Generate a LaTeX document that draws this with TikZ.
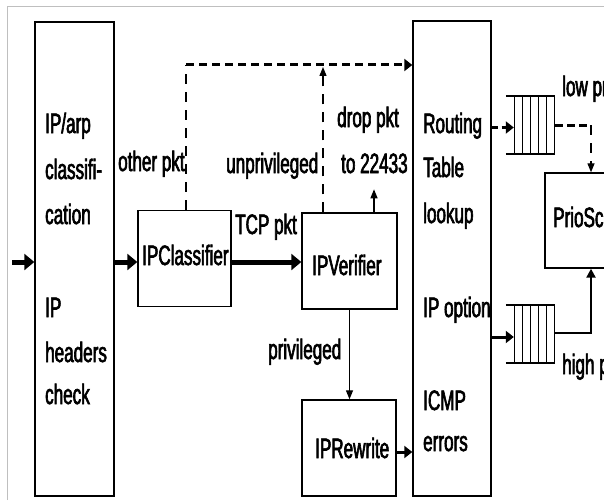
\documentclass[tikz,border=0pt]{standalone}
\usepackage{fontspec}
\setmainfont[FakeStretch=0.61,FakeBold=2.2]{Liberation Sans}
\usetikzlibrary{arrows.meta,calc}
\begin{document}
\begin{tikzpicture}[x=1pt,y=-1pt,
  box/.style={draw=black,line width=1.4pt,inner sep=0pt,rectangle},
  queuebox/.style={draw=none,inner sep=0pt,minimum width=49pt,minimum height=58pt},
  lbl/.style={font=\fontsize{28}{32}\selectfont,inner sep=0pt,anchor=base west},
  bigarrow/.style={line width=5pt,-{Triangle[length=10pt,width=16pt]}},
  medarrow/.style={line width=3pt,-{Triangle[length=8pt,width=12pt]}},
  thinarrow/.style={line width=1.3pt,-{Triangle[length=9pt,width=7pt]}},
  thickdash/.style={line width=3pt,dash pattern=on 8pt off 5pt},
  thindash/.style={line width=1.3pt,dash pattern=on 10pt off 8pt}]
\useasboundingbox (0,0) rectangle (604,500);
\fill[white] (0,0) rectangle (604,500);
\clip (0,0) rectangle (604,500);
\draw[black!25,line width=1pt] (7,500) -- (7,7) -- (604,7);

% boxes
\node[box,minimum width=79pt,minimum height=474pt] (L) at (74.5,259) {};
\node[box,minimum width=93pt,minimum height=96pt] (IPC) at (184.5,258.5) {};
\node[box,minimum width=95pt,minimum height=96pt] (IPV) at (349.5,261) {};
\node[box,minimum width=94pt,minimum height=96pt] (IPR) at (349,448) {};
\node[box,minimum width=78pt,minimum height=475pt] (R) at (452,258.5) {};
\node[box,minimum width=92pt,minimum height=95pt] (P) at (591,220.5) {};
\node[queuebox] (Q1) at (530.5,125) {};
\node[queuebox] (Q2) at (530.5,334) {};

% queues
\foreach \q in {Q1,Q2}{
  \draw[line width=1.5pt] (\q.north west) -- (\q.north east);
  \draw[line width=1.5pt] (\q.south west) -- (\q.south east);
  \foreach \i in {0,...,5}
    \draw[line width=1pt] ($(\q.north west)+(9+8*\i,0)$) -- ($(\q.south west)+(9+8*\i,0)$);
}

% texts
\node[lbl] (a1) at (45,133) {IP/arp};
\node[lbl] (a2) at (45,179) {classifi-};
\node[lbl] (a3) at (45,224) {cation};
\node[lbl] (a4) at (45,317) {IP};
\node[lbl] (a5) at (45,362) {headers};
\node[lbl] (a6) at (45,404) {check};
\node[lbl] (r1) at (423,133) {Routing};
\node[lbl] (r2) at (423,177) {Table};
\node[lbl] (r3) at (423,223) {lookup};
\node[lbl] (r4) at (423,317) {IP option};
\node[lbl] (r5) at (423,410) {ICMP};
\node[lbl] (r6) at (423,451) {errors};
\node[lbl] (tc) at (142,265) {IPClassifier};
\node[lbl] (tv) at (312,275) {IPVerifier};
\node[lbl] (tr) at (315,458) {IPRewrite};
\node[lbl] (tp) at (553,227) {PrioSch};
\node[lbl] (l1) at (118,171) {other pkt};
\node[lbl] (l2) at (226,173) {unprivileged};
\node[lbl] (l3) at (337,127) {drop pkt};
\node[lbl] (l4) at (341,173) {to 22433};
\node[lbl] (l5) at (235,234) {TCP pkt};
\node[lbl] (l6) at (268,359) {privileged};
\node[lbl] (l7) at (562,96) {low pr};
\node[lbl] (l8) at (562,374) {high p};

% connectors
\coordinate (in) at (12,262);
\coordinate (oc) at (186,65);
\coordinate (qc) at (591,125);
\draw[bigarrow] (in) -- (in -| L.west);
\draw[bigarrow] (L.east |- in) -- (IPC.west |- in);
\draw[bigarrow] ([yshift=-3.5pt]IPC.east) -- ([yshift=-3.5pt]IPC.east -| IPV.west);
\draw[thindash] (IPC.north -| oc) -- (oc);
\draw[thickdash,-{Triangle[length=8pt,width=12pt]}] (oc) -- (oc -| R.west);
\draw[thindash,-{Triangle[length=9pt,width=7pt]}] ([xshift=-26.5pt]IPV.north) -- ([xshift=-26.5pt,yshift=-2pt]IPV.north |- oc);
\draw[thinarrow] ([xshift=24.5pt]IPV.north) -- ++(0,-23);
\draw[thinarrow] (IPV.south) -- (IPV.south |- IPR.north);
\draw[medarrow] ([yshift=-4pt]IPR.east) -- ([yshift=-4pt]IPR.east -| R.west);
\draw[line width=3pt,dash pattern=on 6pt off 4pt,-{Triangle[length=8pt,width=12pt]}] ([yshift=-2.5pt]R.east |- Q1.west) -- ([xshift=8pt,yshift=-2.5pt]Q1.west);
\draw[line width=3pt,dash pattern=on 8pt off 4pt] (Q1.east) -- (qc);
\draw[thindash,-{Triangle[length=9pt,width=7pt]}] (qc) -- (P.north);
\draw[medarrow] ([yshift=-3pt]R.east |- Q2.west) -- ([xshift=8pt,yshift=-3pt]Q2.west);
\draw[line width=2.5pt,-{Triangle[length=9pt,width=9pt]}] ([yshift=1pt]Q2.east) -| (P.south);
\end{tikzpicture}
\end{document}
